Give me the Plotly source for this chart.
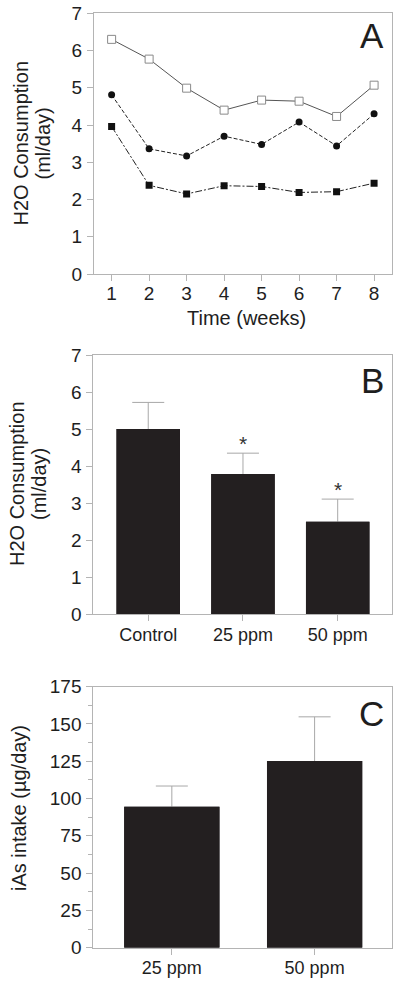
import plotly.graph_objects as go

# ---------------- data ----------------
weeks = [1, 2, 3, 4, 5, 6, 7, 8]
control_weekly = [6.30, 5.77, 4.99, 4.40, 4.67, 4.64, 4.23, 5.07]
ppm25_weekly = [4.81, 3.36, 3.17, 3.70, 3.48, 4.08, 3.44, 4.30]
ppm50_weekly = [3.96, 2.38, 2.15, 2.37, 2.35, 2.19, 2.21, 2.44]

groups_b = ["Control", "25 ppm", "50 ppm"]
water_mean = [5.00, 3.79, 2.50]
water_sd = [0.72, 0.56, 0.61]
water_sig = [False, True, True]

groups_c = ["25 ppm", "50 ppm"]
ias_mean = [94.5, 125.1]
ias_sd = [13.9, 29.7]

W, H = 400, 985
FONT = "Liberation Sans, Arial, sans-serif"
FRAME = "#b4b4b4"
ERR = "#a8a8a8"
BAR = "#231f20"
TXT = "#1e1e1e"


def px(x):
    return x / W


def py(y):
    return 1 - y / H


fig = go.Figure()

# ---------------- Panel A ----------------
fig.add_trace(go.Scatter(
    x=weeks, y=control_weekly, mode="lines+markers", xaxis="x", yaxis="y",
    line=dict(color="#555555", width=1),
    marker=dict(symbol="square", size=8, color="white", line=dict(color="#8a8a8a", width=1)),
    showlegend=False))
fig.add_trace(go.Scatter(
    x=weeks, y=ppm25_weekly, mode="lines+markers", xaxis="x", yaxis="y",
    line=dict(color="#222222", width=1, dash="4px,2px"),
    marker=dict(symbol="circle", size=7, color="#111111"),
    showlegend=False))
fig.add_trace(go.Scatter(
    x=weeks, y=ppm50_weekly, mode="lines+markers", xaxis="x", yaxis="y",
    line=dict(color="#222222", width=1, dash="7px,2px,2px,2px"),
    marker=dict(symbol="square", size=7, color="#111111"),
    showlegend=False))

# ---------------- Panel B ----------------
xb = list(range(len(groups_b)))
# under-layer: bars with symmetric error bars (lower half hidden by top layer)
fig.add_trace(go.Bar(
    x=xb, y=water_mean, width=0.67, xaxis="x2", yaxis="y2",
    marker=dict(color=BAR, line=dict(width=0)),
    error_y=dict(type="data", array=water_sd, color=ERR, thickness=1, width=16),
    showlegend=False))
fig.add_trace(go.Bar(
    x=xb, y=water_mean, width=0.67, xaxis="x2", yaxis="y4",
    marker=dict(color=BAR, line=dict(width=0)),
    showlegend=False))

# ---------------- Panel C ----------------
xc = list(range(len(groups_c)))
fig.add_trace(go.Bar(
    x=xc, y=ias_mean, width=0.667, xaxis="x3", yaxis="y3",
    marker=dict(color=BAR, line=dict(width=0)),
    error_y=dict(type="data", array=ias_sd, color=ERR, thickness=1, width=16),
    showlegend=False))
fig.add_trace(go.Bar(
    x=xc, y=ias_mean, width=0.667, xaxis="x3", yaxis="y5",
    marker=dict(color=BAR, line=dict(width=0)),
    showlegend=False))

axis_common = dict(
    showline=True, linecolor=FRAME, linewidth=1, mirror=True,
    ticks="outside", ticklen=6, tickcolor=FRAME, tickwidth=1,
    showgrid=False, zeroline=False, automargin=False,
)
num_font = dict(family=FONT, size=19, color=TXT)
cat_font = dict(family=FONT, size=18, color=TXT)

xl = px(94)
xr = px(391.7)

dom_a = [py(274), py(13.3)]
dom_b = [py(614.3), py(355)]
dom_c = [py(947.7), py(686.7)]

fig.update_layout(
    template="none",
    width=W, height=H,
    margin=dict(l=0, r=0, t=0, b=0),
    paper_bgcolor="white", plot_bgcolor="white",
    barmode="overlay",
    xaxis=dict(domain=[xl, xr], range=[0.53, 8.47], tickvals=weeks, anchor="y",
               tickfont=num_font, ticklabelstandoff=-4, **axis_common),
    yaxis=dict(domain=dom_a, range=[0, 7], dtick=1, anchor="x",
               tickfont=num_font, ticklabelstandoff=1, **axis_common),
    xaxis2=dict(domain=[px(93.3), xr], range=[-0.58, 2.57], tickvals=xb,
                ticktext=groups_b, anchor="y2", tickfont=cat_font, ticklabelstandoff=-2,
                **axis_common),
    yaxis2=dict(domain=dom_b, range=[0, 7], dtick=1, anchor="x2",
                tickfont=num_font, ticklabelstandoff=1, **axis_common),
    yaxis4=dict(overlaying="y2", range=[0, 7], visible=False, anchor="x2"),
    xaxis3=dict(domain=[px(93.3), xr], range=[-0.55, 1.54], tickvals=xc,
                ticktext=groups_c, anchor="y3", tickfont=cat_font, ticklabelstandoff=-2,
                **axis_common),
    yaxis3=dict(domain=dom_c, range=[0, 175], dtick=25, anchor="x3",
                tickfont=num_font, ticklabelstandoff=1,
                minor=dict(ticks="outside", ticklen=4, dtick=12.5, tickcolor=FRAME, tickwidth=1),
                **axis_common),
    yaxis5=dict(overlaying="y3", range=[0, 175], visible=False, anchor="x3"),
)

ann = []


def label(text, x, y, size, angle=0):
    ann.append(dict(text=text, x=px(x), y=py(y), xref="paper", yref="paper",
                    showarrow=False, textangle=angle, xanchor="center", yanchor="middle",
                    font=dict(family=FONT, size=size, color=TXT)))


# panel letters
label("A", 372, 36, 35)
label("B", 372.5, 380, 35)
label("C", 371, 713, 35)

# axis titles
label("H2O Consumption", 20, 143.5, 20, -90)
label("(ml/day)", 42, 143.5, 20, -90)
label("Time (weeks)", 246, 318, 20)
label("H2O Consumption", 17, 484, 20, -90)
label("(ml/day)", 39, 484, 20, -90)
label("iAs intake (µg/day)", 19, 808, 20, -90)

# significance asterisks
for i, (m, s, sig) in enumerate(zip(water_mean, water_sd, water_sig)):
    if sig:
        ann.append(dict(text="*", x=i, y=m + s, xref="x2", yref="y2", showarrow=False,
                        yanchor="bottom", yshift=-4,
                        font=dict(family=FONT, size=21, color="#333333")))

fig.update_layout(annotations=ann)

fig.write_html(
    "out.html",
    config={"displayModeBar": False},
    post_script="document.body.style.margin='0';document.body.style.overflow='hidden';",
)
